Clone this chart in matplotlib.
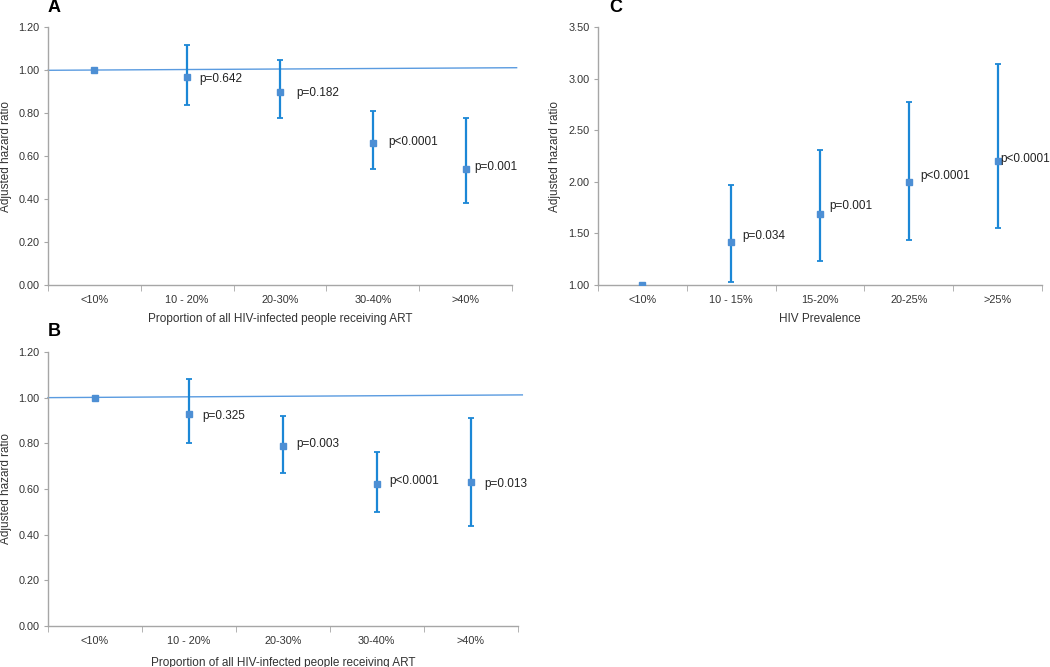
import matplotlib
matplotlib.use("Agg")
import matplotlib.pyplot as plt

plt.rcParams["font.family"] = ["Liberation Sans", "DejaVu Sans"]

# Panel A: proportion of HIV-infected people receiving ART
a_cats = ["<10%", "10 - 20%", "20-30%", "30-40%", ">40%"]
a_hr = [1.00, 0.97, 0.90, 0.66, 0.54]
a_lo = [1.00, 0.84, 0.78, 0.54, 0.38]
a_hi = [1.00, 1.12, 1.05, 0.81, 0.78]
a_p = ["", "p=0.642", "p=0.182", "p<0.0001", "p=0.001"]

# Panel B
b_cats = ["<10%", "10 - 20%", "20-30%", "30-40%", ">40%"]
b_hr = [1.00, 0.93, 0.79, 0.62, 0.63]
b_lo = [1.00, 0.80, 0.67, 0.50, 0.44]
b_hi = [1.00, 1.08, 0.92, 0.76, 0.91]
b_p = ["", "p=0.325", "p=0.003", "p<0.0001", "p=0.013"]

# Panel C: HIV prevalence
c_cats = ["<10%", "10 - 15%", "15-20%", "20-25%", ">25%"]
c_hr = [1.00, 1.42, 1.69, 2.00, 2.20]
c_lo = [1.00, 1.03, 1.23, 1.44, 1.55]
c_hi = [1.00, 1.97, 2.31, 2.78, 3.14]
c_p = ["", "p=0.034", "p=0.001", "p<0.0001", "p<0.0001"]

# label offsets from the point, in pixels (dx, dy)
a_off = [(0, 0), (12, -2), (16, -1), (15, 1), (9, 2)]
b_off = [(0, 0), (13, -2), (13, 2), (13, 3), (14, -2)]
c_off = [(0, 0), (11, 6), (9, 8), (11, 6), (3, 2)]

BAR = "#1b87d6"
MARK = "#4d8fd4"
REF = "#5a9be0"
SPINE = "#a6a6a6"
TXT = "#333333"


def panel(ax, cats, hr, lo, hi, pvals, offs, ylim, yticks, xlabel, letter,
          letter_x=0.0, ref=None, xlabelpad=5):
    x = list(range(len(cats)))
    if ref is not None:
        ax.plot([-0.5, 4.55], ref, color=REF, lw=1.0, zorder=1, clip_on=False)
    err_lo = [h - l for h, l in zip(hr, lo)]
    err_hi = [u - h for h, u in zip(hr, hi)]
    ax.errorbar(x[1:], hr[1:], yerr=[err_lo[1:], err_hi[1:]], fmt="none",
                ecolor=BAR, elinewidth=1.6, capsize=2.4, capthick=1.3, zorder=2)
    ax.plot(x, hr, ls="none", marker="s", ms=4, color=MARK, zorder=3)
    for xi, yi, t, (dx, dy) in zip(x, hr, pvals, offs):
        if t:
            ax.annotate(t, (xi, yi), xytext=(dx, dy), textcoords="offset pixels",
                        fontsize=8.5, va="center", ha="left", color="#222222",
                        annotation_clip=False)
    ax.set_xlim(-0.5, 4.5)
    ax.set_ylim(*ylim)
    ax.set_yticks(yticks)
    ax.set_yticklabels([f"{v:.2f}" for v in yticks], fontsize=7.8, color=TXT)
    ax.set_xticks(x)
    ax.set_xticklabels(cats, fontsize=7.8, color=TXT)
    ax.set_xticks([i - 0.5 for i in range(len(cats) + 1)], minor=True)
    ax.tick_params(axis="x", which="major", length=0, pad=7)
    ax.tick_params(axis="x", which="minor", length=4, color=SPINE, direction="out")
    ax.tick_params(axis="y", length=3, color=SPINE, pad=3)
    for s in ("top", "right"):
        ax.spines[s].set_visible(False)
    for s in ("left", "bottom"):
        ax.spines[s].set_color(SPINE)
        ax.spines[s].set_linewidth(1.0)
    ax.set_ylabel("Adjusted hazard ratio", fontsize=8.5, color=TXT, labelpad=5)
    ax.set_xlabel(xlabel, fontsize=8.5, color=TXT, labelpad=xlabelpad)
    ax.text(letter_x, 1.045, letter, transform=ax.transAxes,
            fontsize=13, fontweight="bold", ha="left", va="bottom")


fig = plt.figure(figsize=(10.5, 6.67), dpi=100)
axA = fig.add_axes([0.0457, 0.5727, 0.4419, 0.3863])
axB = fig.add_axes([0.0457, 0.0615, 0.4473, 0.4108])
axC = fig.add_axes([0.5695, 0.5727, 0.4229, 0.3863])

yt1 = [0.0, 0.2, 0.4, 0.6, 0.8, 1.0, 1.2]
xl = "Proportion of all HIV-infected people receiving ART"
panel(axA, a_cats, a_hr, a_lo, a_hi, a_p, a_off, (0, 1.2), yt1, xl, "A",
      ref=[1.0, 1.012], xlabelpad=6)
panel(axB, b_cats, b_hr, b_lo, b_hi, b_p, b_off, (0, 1.2), yt1, xl, "B",
      ref=[1.0, 1.012], xlabelpad=8)
yt2 = [1.0, 1.5, 2.0, 2.5, 3.0, 3.5]
panel(axC, c_cats, c_hr, c_lo, c_hi, c_p, c_off, (1.0, 3.5), yt2,
      "HIV Prevalence", "C", letter_x=0.025, xlabelpad=6)

fig.savefig("out.png", dpi=100)
